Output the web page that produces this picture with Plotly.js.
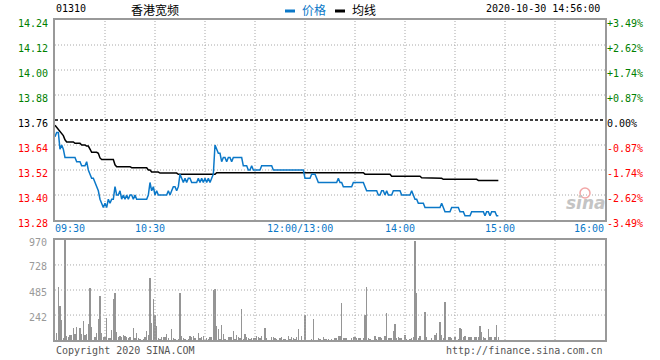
<!DOCTYPE html>
<html>
<head>
<meta charset="utf-8">
<script src="https://cdn.plot.ly/plotly-3.0.1.min.js"></script>
<style>
html,body{margin:0;padding:0;background:#fff}
#chart{width:660px;height:360px}
</style>
</head>
<body>
<div id="chart"></div>
<script>
// ---- data (one value per trading minute from 09:30; index 150 = 13:00) ----
const stockCode = '01310';
const stockName = '香港宽频';
const stampText = '2020-10-30 14:56:00';
const prevClose = 13.76;

const price = [
 13.68,13.70,13.70,13.62,13.64,13.62,13.58,13.58,13.58,13.58,
 13.58,13.58,13.58,13.56,13.56,13.56,13.54,13.54,13.54,13.56,
 13.52,13.50,13.48,13.48,13.46,13.44,13.42,13.38,13.36,13.34,
 13.36,13.34,13.38,13.36,13.38,13.38,13.44,13.40,13.40,13.42,
 13.38,13.40,13.38,13.40,13.38,13.40,13.40,13.38,13.40,13.38,
 13.38,13.38,13.38,13.38,13.38,13.38,13.40,13.46,13.42,13.44,
 13.40,13.42,13.40,13.40,13.40,13.40,13.40,13.40,13.42,13.40,
 13.42,13.44,13.44,13.42,13.44,13.50,13.48,13.46,13.48,13.46,
 13.48,13.48,13.46,13.46,13.46,13.46,13.48,13.46,13.48,13.46,
 13.48,13.46,13.48,13.46,13.48,13.50,13.64,13.62,13.60,13.60,
 13.56,13.58,13.58,13.56,13.58,13.58,13.56,13.58,13.58,13.58,
 13.58,13.58,13.58,13.54,13.54,13.54,13.52,13.52,13.54,13.52,
 13.52,13.52,13.52,13.52,13.54,13.54,13.54,13.54,13.54,13.54,
 13.54,13.52,13.52,13.52,13.52,13.52,13.52,13.52,13.52,13.52,
 13.52,13.52,13.52,13.52,13.52,13.52,13.52,13.52,13.52,13.52,
 13.48,13.48,13.48,13.48,13.50,13.50,13.50,13.48,13.46,13.46,
 13.46,13.46,13.46,13.46,13.46,13.46,13.46,13.46,13.46,13.46,
 13.48,13.46,13.46,13.44,13.44,13.44,13.44,13.44,13.44,13.46,
 13.46,13.46,13.46,13.46,13.46,13.46,13.44,13.42,13.42,13.42,
 13.42,13.42,13.42,13.42,13.40,13.40,13.42,13.42,13.40,13.42,
 13.40,13.40,13.40,13.42,13.42,13.42,13.42,13.42,13.40,13.40,
 13.40,13.40,13.40,13.40,13.42,13.40,13.38,13.38,13.36,13.36,
 13.36,13.36,13.34,13.34,13.34,13.34,13.34,13.34,13.34,13.34,
 13.34,13.34,13.36,13.34,13.32,13.32,13.32,13.32,13.34,13.34,
 13.34,13.34,13.34,13.32,13.32,13.32,13.30,13.30,13.30,13.30,
 13.32,13.32,13.32,13.32,13.32,13.32,13.32,13.32,13.30,13.32,
 13.32,13.30,13.32,13.32,13.32,13.30,13.30
];

const avgPrice = [
 13.735,13.725,13.710,13.700,13.690,13.685,13.665,13.655,13.655,13.655,
 13.655,13.655,13.648,13.648,13.648,13.648,13.640,13.640,13.640,13.635,
 13.635,13.620,13.605,13.605,13.605,13.605,13.600,13.578,13.570,13.570,
 13.570,13.570,13.570,13.570,13.570,13.570,13.545,13.536,13.536,13.536,
 13.536,13.536,13.536,13.536,13.536,13.536,13.531,13.531,13.531,13.531,
 13.531,13.531,13.531,13.531,13.531,13.531,13.520,13.520,13.510,13.510,
 13.510,13.510,13.510,13.505,13.505,13.505,13.505,13.505,13.505,13.505,
 13.505,13.505,13.505,13.505,13.499,13.499,13.499,13.499,13.499,13.499,
 13.499,13.499,13.499,13.499,13.499,13.499,13.499,13.499,13.499,13.499,
 13.499,13.499,13.499,13.499,13.499,13.499,13.499,13.507,13.507,13.507,
 13.507,13.507,13.507,13.507,13.507,13.507,13.507,13.507,13.507,13.507,
 13.507,13.507,13.507,13.507,13.507,13.507,13.507,13.507,13.507,13.507,
 13.507,13.507,13.507,13.507,13.507,13.507,13.507,13.507,13.507,13.507,
 13.507,13.507,13.507,13.507,13.507,13.507,13.507,13.507,13.507,13.507,
 13.507,13.507,13.507,13.507,13.507,13.507,13.507,13.507,13.507,13.507,
 13.507,13.507,13.507,13.507,13.507,13.507,13.507,13.507,13.507,13.507,
 13.507,13.507,13.507,13.507,13.507,13.507,13.507,13.507,13.507,13.507,
 13.507,13.507,13.507,13.507,13.507,13.507,13.507,13.507,13.507,13.507,
 13.507,13.507,13.507,13.507,13.507,13.507,13.500,13.500,13.500,13.500,
 13.500,13.500,13.500,13.500,13.500,13.500,13.500,13.500,13.500,13.500,
 13.500,13.500,13.490,13.490,13.490,13.490,13.490,13.490,13.490,13.490,
 13.490,13.490,13.490,13.490,13.490,13.490,13.490,13.490,13.490,13.490,
 13.483,13.483,13.480,13.480,13.480,13.480,13.480,13.480,13.480,13.480,
 13.480,13.480,13.480,13.475,13.475,13.475,13.475,13.475,13.475,13.475,
 13.475,13.475,13.475,13.475,13.475,13.475,13.475,13.475,13.475,13.475,
 13.475,13.475,13.475,13.475,13.470,13.470,13.470,13.470,13.470,13.470,
 13.470,13.470,13.470,13.470,13.470,13.470,13.470
];

const volume = [
 0,68,511,327,194,20,970,36,32,45,
 45,116,58,126,0,116,58,184,45,58,
 155,505,126,0,32,68,204,423,68,30,
 26,213,20,20,97,398,456,78,32,39,
 32,49,42,29,23,26,0,116,20,68,
 20,13,0,13,26,87,52,601,165,398,
 240,132,20,13,32,26,29,58,20,0,
 106,20,13,0,13,456,36,20,13,0,
 13,36,26,39,20,0,65,20,26,42,
 0,20,13,29,26,482,495,132,106,13,
 145,55,13,0,26,26,29,87,13,45,
 29,20,301,13,55,26,20,13,20,20,
 20,39,26,20,39,0,116,20,0,0,
 29,29,20,13,0,20,29,13,13,0,
 39,13,26,20,13,26,106,0,39,0,
 246,0,0,0,13,204,0,0,20,13,
 0,26,13,10,10,0,10,0,20,20,
 36,39,359,20,20,20,0,0,20,29,
 29,20,20,20,0,20,239,511,20,13,
 0,0,39,13,26,32,20,0,36,259,
 20,20,20,87,152,20,29,23,20,0,
 45,13,0,13,20,29,965,456,20,36,
 0,0,271,29,0,0,20,0,49,68,
 0,175,49,20,369,0,29,26,20,0,
 26,0,13,116,106,26,36,0,29,29,
 26,0,29,26,29,136,78,29,20,0,
 106,29,29,0,29,145,32
];

const gridMinutes = [30,60,90,120,150,180,210,240,270,300];
const timeLabelPos = [0,60,150,210,270,330];
const timeLabels = ['09:30','10:30','12:00/13:00','14:00','15:00','16:00'];
const priceTicks = [13.28,13.40,13.52,13.64,13.76,13.88,14.00,14.12,14.24];
const priceLabels = ['13.28','13.40','13.52','13.64','13.76','13.88','14.00','14.12','14.24'];
const pctLabels = ['-3.49%','-2.62%','-1.74%','-0.87%','0.00%','+0.87%','+1.74%','+2.62%','+3.49%'];
const volTicks = [242,485,728,970];
const volLabels = ['242','485','728','970'];

// ---- styling ----
const BLUE = '#0b78c8', GREEN = '#008000', RED = '#ff0000';
const GRID = '#a8a8a8', FRAME = '#999999';
const MONO = 'DejaVu Sans Mono, monospace';
const CJK = 'Noto Sans CJK SC, sans-serif';
const PRICE_RANGE = [13.28, 14.24], VOL_RANGE = [0, 970], X_RANGE = [0, 330];

const minuteIndex = price.map((_, i) => i);
function colorFor(v){ return v > prevClose ? GREEN : (v < prevClose ? RED : '#000'); }
const priceTickText = priceTicks.map((v,k) => '<span style="color:'+colorFor(v)+'">'+priceLabels[k]+'</span>');
const pctTickText = priceTicks.map((v,k) => '<span style="color:'+colorFor(v)+'">'+pctLabels[k]+'</span>');

const px = x => (x - 55) / 550;
const py = y => (340 - y) / 320;

// grid line paths built from the tick arrays, separated by nulls
function gridPath(xs, ys, yRange){
  const gx = [], gy = [];
  xs.forEach(m => { gx.push(m, m, null); gy.push(yRange[0], yRange[1], null); });
  ys.forEach(v => { gx.push(X_RANGE[0], X_RANGE[1], null); gy.push(v, v, null); });
  return {gx, gy};
}
const priceGrid = gridPath(gridMinutes, priceTicks.slice(1, -1).filter(v => v !== prevClose), PRICE_RANGE);
const volGrid = gridPath(gridMinutes, volTicks.slice(0, -1), VOL_RANGE);

const baseAxis = {
  range:X_RANGE, tickmode:'array', tickvals:[], showticklabels:false, ticks:'',
  showgrid:false, zeroline:false,
  showline:true, mirror:true, linecolor:FRAME, linewidth:2
};

const traces = [
  {type:'scatter', mode:'lines', x:volGrid.gx, y:volGrid.gy, xaxis:'x2', yaxis:'y3',
   line:{color:GRID, width:1, dash:'1px,2px'}, connectgaps:false, hoverinfo:'skip'},
  {type:'bar', x:minuteIndex, y:volume, xaxis:'x2', yaxis:'y3', width:0.7,
   marker:{color:'#959595', line:{width:0}}, hoverinfo:'skip'},
  {type:'scatter', mode:'lines', x:priceGrid.gx, y:priceGrid.gy, xaxis:'x', yaxis:'y',
   line:{color:GRID, width:1, dash:'1px,2px'}, connectgaps:false, hoverinfo:'skip'},
  {type:'scatter', mode:'lines', x:minuteIndex, y:avgPrice, xaxis:'x', yaxis:'y',
   line:{color:'#000', width:1.5}, hoverinfo:'skip'},
  {type:'scatter', mode:'lines', x:minuteIndex, y:price, xaxis:'x', yaxis:'y',
   line:{color:BLUE, width:1.5}, hoverinfo:'skip'},
  {type:'scatter', mode:'markers', x:[0], y:[prevClose], xaxis:'x', yaxis:'y2',
   marker:{opacity:0}, hoverinfo:'skip'}
];

const annotations = [
  {text:stockCode, xref:'paper', yref:'paper', x:px(54), y:py(9), xanchor:'left', yanchor:'middle', showarrow:false, font:{family:MONO, size:10, color:'#000'}},
  {text:stockName, xref:'paper', yref:'paper', x:px(129), y:py(9.5), xanchor:'left', yanchor:'middle', showarrow:false, font:{family:CJK, size:12, color:'#000'}},
  {text:'价格', xref:'paper', yref:'paper', x:px(300), y:py(9.5), xanchor:'left', yanchor:'middle', showarrow:false, font:{family:CJK, size:12, color:BLUE}},
  {text:'均线', xref:'paper', yref:'paper', x:px(350), y:py(9.5), xanchor:'left', yanchor:'middle', showarrow:false, font:{family:CJK, size:12, color:'#000'}},
  {text:stampText, xref:'paper', yref:'paper', x:px(602), y:py(9), xanchor:'right', yanchor:'middle', showarrow:false, font:{family:MONO, size:10, color:'#000'}},
  {text:'Copyright 2020 SINA.COM', xref:'paper', yref:'paper', x:px(54), y:py(350), xanchor:'left', yanchor:'middle', showarrow:false, font:{family:MONO, size:10, color:'#555'}},
  {text:'http://finance.sina.com.cn', xref:'paper', yref:'paper', x:px(605), y:py(350), xanchor:'right', yanchor:'middle', showarrow:false, font:{family:MONO, size:10, color:'#555'}},
  {text:'<b><i>sina</i></b>', xref:'paper', yref:'paper', x:px(586), y:py(203), xanchor:'center', yanchor:'middle', showarrow:false, font:{family:'DejaVu Sans, sans-serif', size:17, color:'#c4c4c4'}}
];
timeLabelPos.forEach((m,k) => {
  const first = k === 0, last = k === timeLabelPos.length - 1;
  annotations.push({text:timeLabels[k], xref:'x', yref:'paper', x:m, y:py(221),
    xanchor: first ? 'left' : (last ? 'right' : 'center'), xshift: first ? -2 : (last ? 1 : -5),
    yanchor:'top', showarrow:false, font:{family:MONO, size:10, color:BLUE}});
});

const shapes = [
  {type:'line', xref:'x domain', yref:'y', x0:0, x1:1, y0:prevClose, y1:prevClose, line:{color:'#000', width:1.5, dash:'3px,2px'}},
  {type:'line', xref:'paper', yref:'paper', x0:px(285), x1:px(295), y0:py(11), y1:py(11), line:{color:BLUE, width:3}},
  {type:'line', xref:'paper', yref:'paper', x0:px(335), x1:px(345), y0:py(11), y1:py(11), line:{color:'#000', width:3}},
  {type:'circle', xref:'paper', yref:'paper', x0:px(580), x1:px(590), y0:py(198), y1:py(188), line:{color:'#f2a6a6', width:1.5}, fillcolor:'rgba(255,255,255,0)'}
];

const layout = {
  width:660, height:360, autosize:false,
  margin:{l:55, r:55, t:20, b:20, pad:0},
  paper_bgcolor:'#ffffff', plot_bgcolor:'rgba(0,0,0,0)',
  showlegend:false, bargap:0,
  font:{family:MONO, size:10, color:'#000'},
  xaxis: Object.assign({}, baseAxis, {domain:[0,1], anchor:'y'}),
  yaxis: {domain:[0.375,1], anchor:'x', range:PRICE_RANGE, tickmode:'array', tickvals:priceTicks, ticktext:priceTickText,
          ticks:'', ticklabelshift:3, ticklabelstandoff:3, showgrid:false,
          zeroline:false, showline:true, mirror:true, linecolor:FRAME, linewidth:2,
          tickfont:{family:MONO, size:10}},
  yaxis2: {overlaying:'y', side:'right', anchor:'x', range:PRICE_RANGE, tickmode:'array', tickvals:priceTicks, ticktext:pctTickText,
           ticks:'', ticklabelshift:3, ticklabelstandoff:1, showgrid:false, zeroline:false, showline:false,
           tickfont:{family:MONO, size:10}},
  xaxis2: Object.assign({}, baseAxis, {domain:[0,1], anchor:'y3'}),
  yaxis3: {domain:[0,0.3125], anchor:'x2', range:VOL_RANGE, tickmode:'array', tickvals:volTicks, ticktext:volLabels,
           ticks:'', ticklabelshift:2, ticklabelstandoff:4, showgrid:false,
           zeroline:false, showline:true, mirror:true, linecolor:FRAME, linewidth:2,
           tickfont:{family:MONO, size:10, color:'#999999'}},
  annotations: annotations,
  shapes: shapes
};

Plotly.newPlot('chart', traces, layout, {staticPlot:true, displayModeBar:false});
</script>
</body>
</html>
